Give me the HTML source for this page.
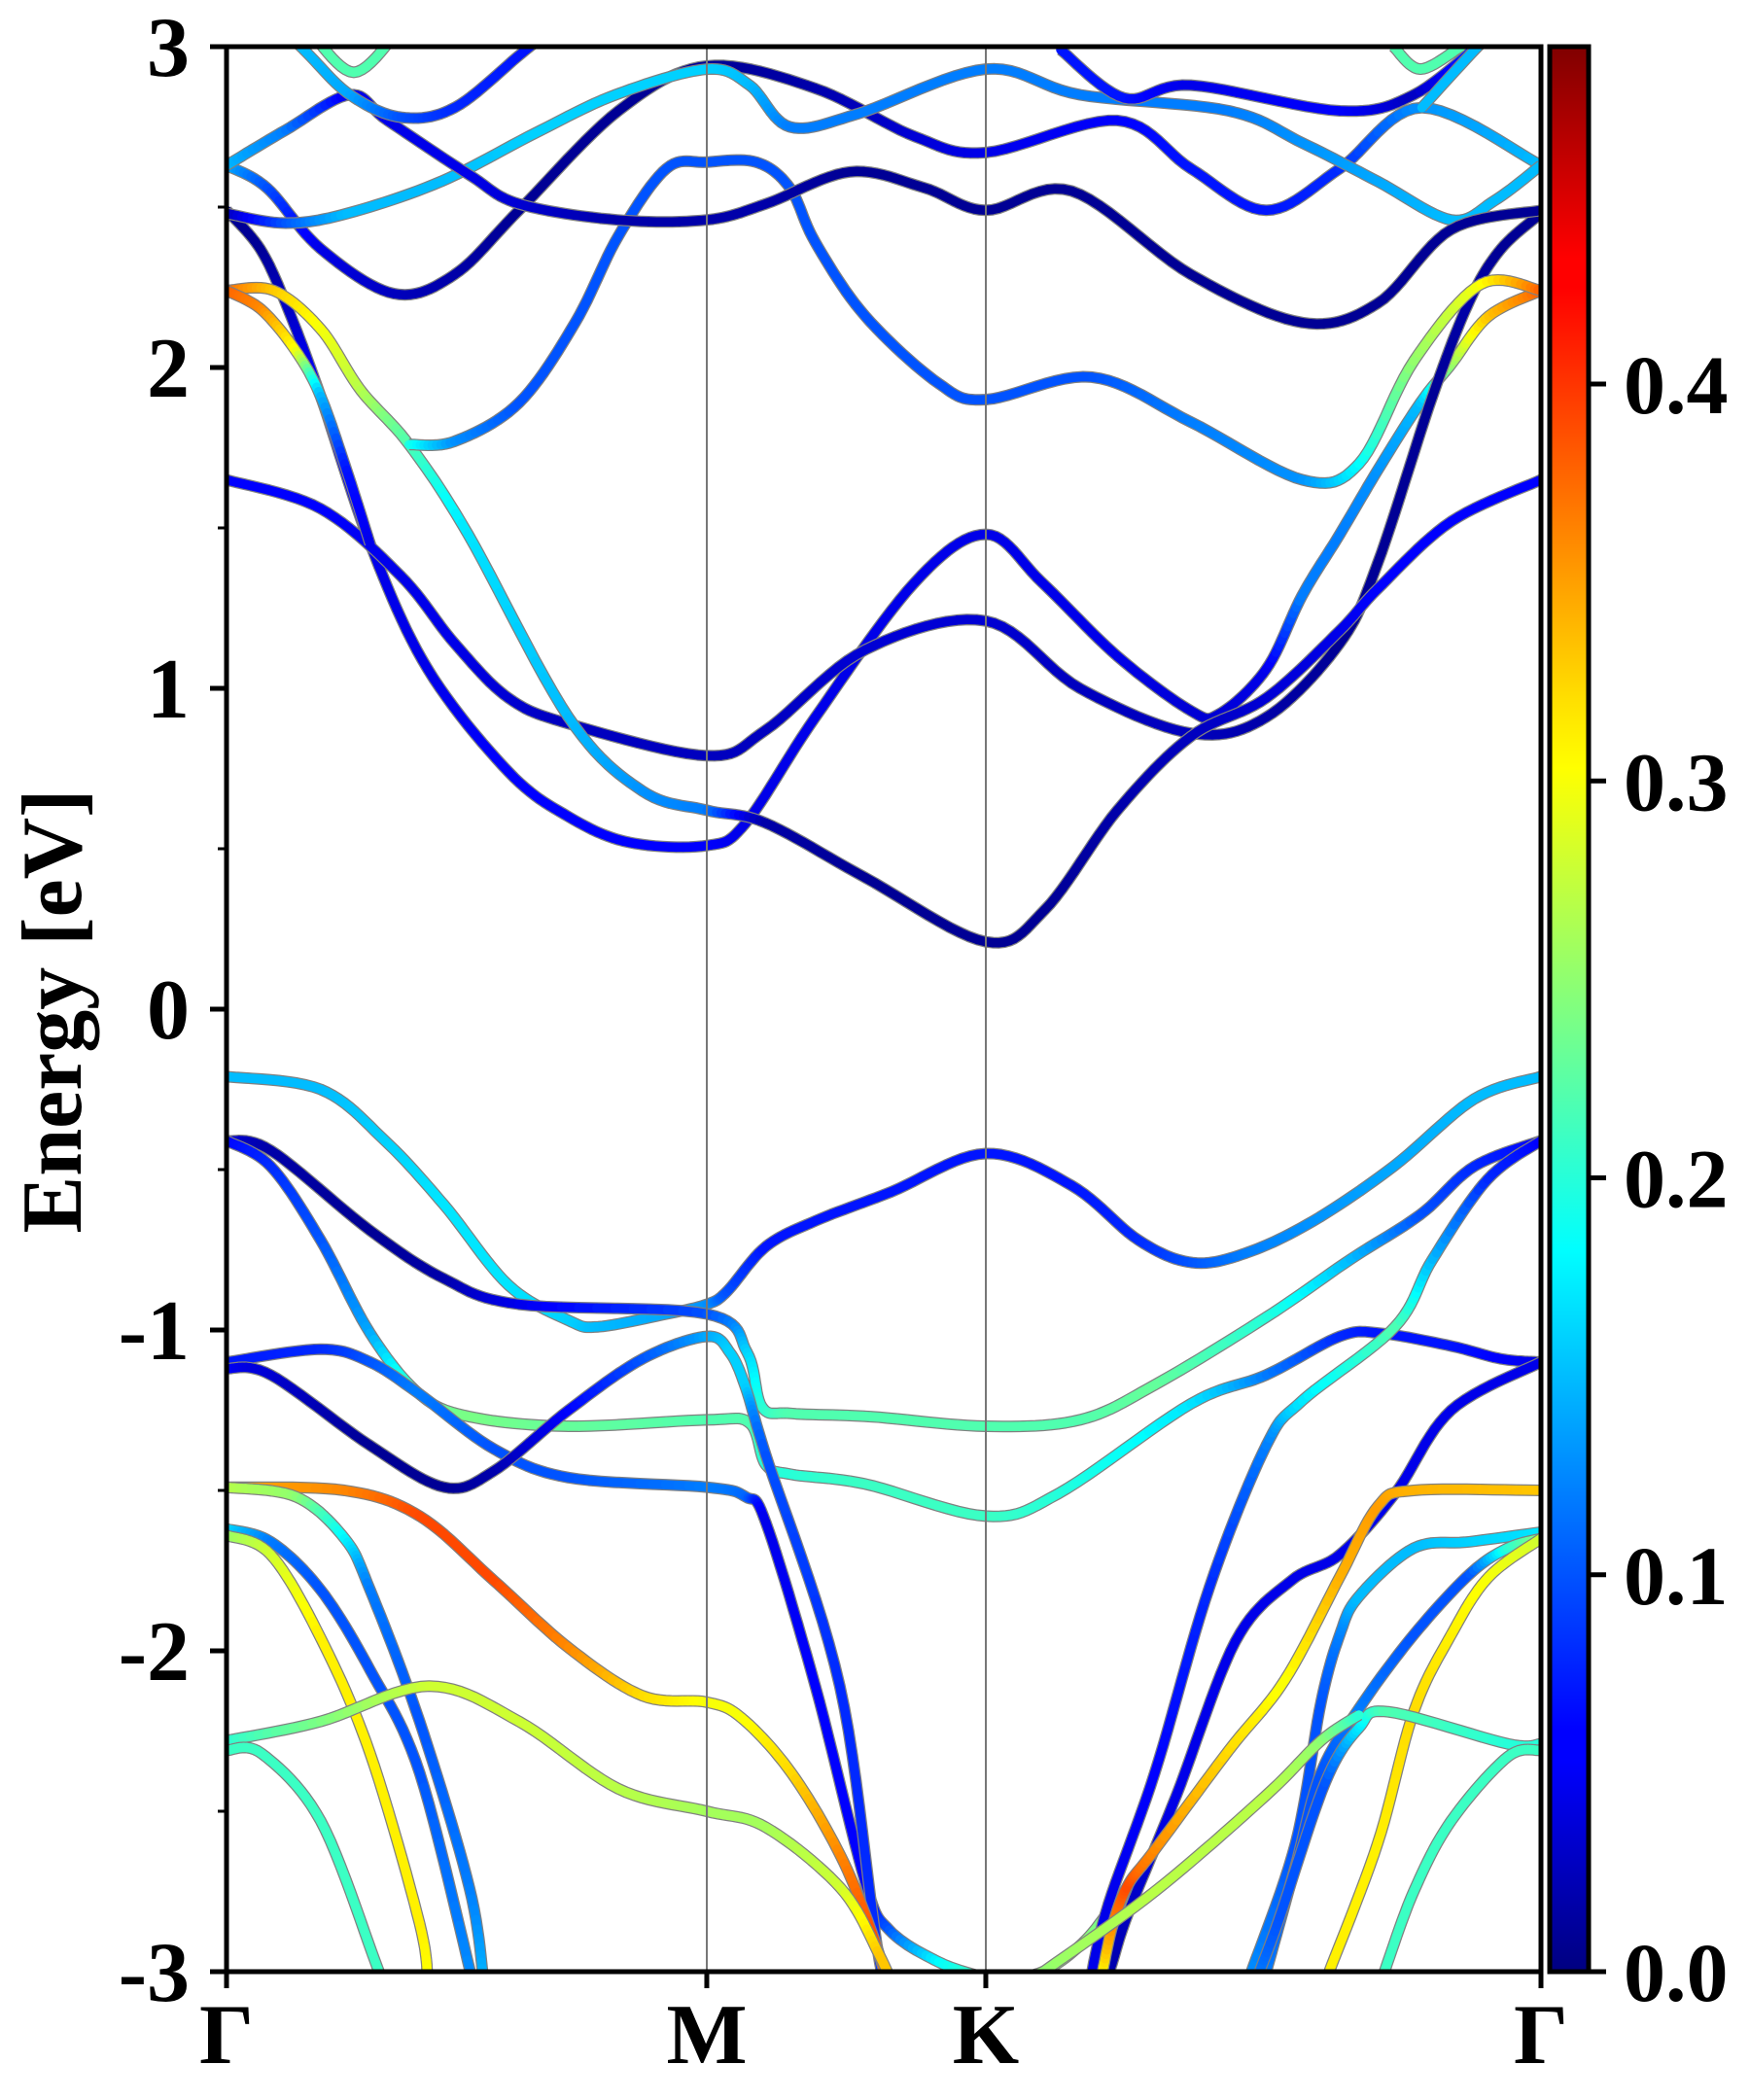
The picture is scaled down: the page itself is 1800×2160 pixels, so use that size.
<!DOCTYPE html>
<html><head><meta charset="utf-8">
<style>
html,body{margin:0;padding:0;background:#fff;}
svg{display:block;}
text{font-family:"Liberation Serif","DejaVu Serif",serif;font-weight:bold;fill:#000;}
</style></head>
<body>
<svg id="chart" width="1800" height="2160" viewBox="0 0 1800 2160" xmlns="http://www.w3.org/2000/svg">
<defs>
<clipPath id="plotClip"><rect x="233" y="48" width="1352" height="1980"/></clipPath>
<linearGradient id="jetGrad" x1="0" y1="1" x2="0" y2="0">
<stop offset="0" stop-color="#000080"/><stop offset="0.11" stop-color="#0000ff"/><stop offset="0.125" stop-color="#0000ff"/>
<stop offset="0.34" stop-color="#00dcff"/><stop offset="0.375" stop-color="#00ffff"/><stop offset="0.5" stop-color="#80ff80"/>
<stop offset="0.625" stop-color="#ffff00"/><stop offset="0.66" stop-color="#ffe000"/><stop offset="0.875" stop-color="#ff0000"/>
<stop offset="0.89" stop-color="#ff0000"/><stop offset="1" stop-color="#800000"/>
</linearGradient>
</defs>
<rect width="1800" height="2160" fill="#fff"/>
<g id="bands" clip-path="url(#plotClip)"></g>
<line x1="727" y1="48" x2="727" y2="2028" stroke="#777" stroke-width="2"/>
<line x1="1014" y1="48" x2="1014" y2="2028" stroke="#777" stroke-width="2"/>
<rect x="233" y="48" width="1352" height="1980" fill="none" stroke="#000" stroke-width="5"/>
<g id="axes"></g>
<text x="0" y="0" font-size="88" text-anchor="middle" transform="translate(83,1040) rotate(-90)">Energy [eV]</text>
<rect x="1594" y="48" width="40" height="1980" fill="url(#jetGrad)" stroke="#000" stroke-width="5"/>
<g id="cbar"></g>
</svg>
<script>
const kTicks=[0,1,1.581,2.737];
const kLabels=["Γ","M","K","Γ"];
const eTicks=[-3,-2,-1,0,1,2,3];
const eMinor=[-2.5,-1.5,-0.5,0.5,1.5,2.5];
const cbTicks=[0,0.1,0.2,0.3,0.4];
const cbLabels=["0.0","0.1","0.2","0.3","0.4"];
const VMAX=0.485;

// conduction bands
const kLCa=[0,.07,.126,.196,.299,.419,.587,.712,.838,1.0,1.081,1.226,1.433,1.581,1.698,1.855,2.008,2.067,2.165,2.24,2.318,2.397,2.486,2.55,2.628,2.737];
const eLCa=[2.49,2.37,2.19,1.91,1.45,1.06,0.74,0.60,0.52,0.51,0.58,0.91,1.33,1.48,1.33,1.10,0.93,0.92,1.06,1.29,1.48,1.68,1.89,2.01,2.16,2.24];
const vLCa=[.01,.01,.03,.06,.05,.05,.06,.06,.06,.06,.05,.05,.05,.05,.05,.05,.04,.04,.05,.12,.12,.13,.15,.25,.33,.38];
const kLCb=[0,.196,.363,.475,.587,.712,1.0,1.123,1.33,1.581,1.777,2.008,2.165,2.318,2.397,2.511,2.589,2.654,2.737];
const eLCb=[1.65,1.56,1.35,1.14,0.97,0.89,0.79,0.87,1.12,1.21,1.00,0.86,0.91,1.14,1.39,1.91,2.21,2.37,2.48];
const vLCb=[.06,.06,.05,.05,.04,.03,.03,.03,.04,.04,.03,.03,.02,.01,.01,.01,.02,.01,.01];
const kLCc=[0,.098,.196,.279,.38,.503,.712,.866,1.0,1.123,1.33,1.581,1.704,1.855,2.008,2.165,2.318,2.397,2.55,2.737];
const eLCc=[2.24,2.24,2.12,1.93,1.76,1.48,0.91,0.68,0.62,0.58,0.41,0.21,0.31,0.62,0.85,0.97,1.18,1.31,1.52,1.65];
const vLCc=[.38,.33,.3,.27,.22,.17,.15,.13,.12,.02,.01,.01,.01,.02,.03,.04,.05,.06,.06,.06];
const kLCd=[0,.073,.145,.196,.25,.299];
const eLCd=[2.24,2.18,2.05,1.91,1.68,1.45];
const vLCd=[.38,.36,.3,.15,.07,.05];
const kLCe=[.38,.475,.609,.726,.816,.916,1.0,1.103,1.173,1.226,1.33,1.483,1.581,1.802,2.008,2.24,2.358,2.472,2.612,2.737];
const eLCe=[1.76,1.77,1.89,2.14,2.41,2.62,2.64,2.64,2.56,2.39,2.16,1.95,1.9,1.97,1.83,1.65,1.70,2.02,2.26,2.24];
const vLCe=[.2,.13,.1,.1,.1,.1,.1,.1,.1,.1,.1,.1,.1,.1,.12,.13,.18,.25,.3,.38];
const kP1=[0,.084,.196,.349,.475,.609,.816,1.0,1.226,1.433,1.581,1.855,2.008,2.165,2.318,2.489,2.737];
const eP1=[2.63,2.56,2.37,2.23,2.29,2.49,2.80,2.94,2.87,2.72,2.67,2.77,2.62,2.49,2.62,2.81,2.63];
const vP1=[.15,.1,.05,.03,.02,.01,.01,.01,.02,.04,.05,.06,.07,.07,.08,.13,.15];
const kP2=[0,.123,.251,.447,.642,.81,1.0,1.089,1.173,1.313,1.581,1.777,2.087,2.24,2.397,2.55,2.64,2.737];
const eP2=[2.48,2.45,2.48,2.58,2.73,2.85,2.93,2.88,2.75,2.79,2.93,2.85,2.80,2.70,2.58,2.46,2.52,2.63];
const vP2=[.02,.1,.15,.15,.16,.16,.16,.15,.12,.12,.12,.12,.12,.13,.14,.15,.15,.15];
const kP3=[0,.123,.257,.335,.506,.609,.813,1.0,1.123,1.299,1.453,1.581,1.76,2.008,2.24,2.397,2.55,2.737];
const eP3=[2.63,2.74,2.85,2.77,2.60,2.51,2.46,2.46,2.51,2.61,2.56,2.49,2.55,2.29,2.14,2.20,2.43,2.49];
const vP3=[.15,.12,.05,.05,.05,.04,.02,.02,.02,.01,.01,.01,.01,.01,.01,.01,.01,.01];
const kP4=[.07,.168,.257,.363,.475,.615,.698];
const eP4=[3.13,2.98,2.85,2.78,2.81,2.98,3.08];
const vP4=[.15,.15,.14,.1,.08,.07,.07];
const kP5=[.168,.265,.363];
const eP5=[3.06,2.92,3.06];
const vP5=[.22,.22,.22];
const kP6=[1.737,1.869,2.008,2.318,2.472,2.626];
const eP6=[2.99,2.84,2.88,2.80,2.85,3.03];
const vP6=[.07,.07,.05,.06,.03,.1];
const kP7=[2.43,2.486,2.57];
const eP7=[3.0,2.93,3.0];
const vP7=[.22,.22,.22];
const kP8=[2.489,2.612,2.682];
const eP8=[2.81,3.01,3.1];
const vP8=[.15,.15,.15];

// valence bands
const kV1=[0,.196,.33,.453,.587,.712,.774,.916,1.0,1.042,1.123,1.226,1.383,1.581,1.76,1.899,2.011,2.123,2.263,2.43,2.598,2.737];
const eV1=[-0.21,-0.25,-0.41,-0.61,-0.86,-0.97,-0.99,-0.95,-0.92,-0.88,-0.74,-0.66,-0.57,-0.45,-0.55,-0.72,-0.79,-0.76,-0.66,-0.49,-0.28,-0.21];
const vV1=[.15,.15,.16,.17,.17,.16,.15,.14,.13,.1,.07,.07,.07,.07,.07,.08,.1,.12,.13,.14,.15,.15];
const kV2=[0,.092,.299,.453,.609,1.0,1.084,1.115,1.176,1.341,1.581,1.777,1.934,2.165,2.34,2.486,2.598,2.737];
const eV2=[-0.41,-0.44,-0.69,-0.84,-0.92,-0.95,-1.07,-1.24,-1.26,-1.27,-1.30,-1.28,-1.17,-0.96,-0.78,-0.64,-0.49,-0.41];
const vV2=[.05,.02,.01,.02,.05,.1,.16,.2,.22,.22,.22,.22,.23,.2,.15,.1,.08,.06];
const kV3=[0,.092,.196,.299,.402,.506,.712,1.0,1.089,1.123,1.176,1.33,1.581,1.732,2.008,2.165,2.318,2.402,2.55,2.654,2.737];
const eV3=[-0.41,-0.49,-0.72,-1.01,-1.20,-1.27,-1.30,-1.28,-1.29,-1.42,-1.45,-1.48,-1.58,-1.51,-1.23,-1.14,-1.02,-1.01,-1.05,-1.09,-1.10];
const vV3=[.06,.08,.1,.14,.22,.24,.23,.22,.22,.2,.2,.21,.21,.2,.17,.12,.08,.07,.07,.06,.05];
const kV4=[0,.196,.299,.402,.556,.712,1.0,1.081,1.123,1.226,1.33,1.38,1.483,1.581];
const eV4=[-1.10,-1.06,-1.10,-1.20,-1.37,-1.46,-1.49,-1.52,-1.60,-2.11,-2.72,-2.87,-2.97,-3.02];
const vV4=[.07,.08,.1,.12,.1,.1,.12,.11,.05,.06,.06,.1,.18,.22];
const kV5=[0,.092,.299,.453,.556,.712,.866,1.0,1.048,1.081,1.123,1.277,1.36,1.425];
const eV5=[-1.12,-1.14,-1.36,-1.49,-1.44,-1.25,-1.09,-1.02,-1.07,-1.18,-1.39,-2.11,-2.97,-3.33];
const vV5=[.06,.04,.01,.01,.02,.06,.1,.14,.16,.16,.1,.08,.08,.1];
const kL1=[0,.246,.402,.556,.712,.866,1.0,1.073,1.176,1.279,1.349,1.383];
const eL1=[-1.49,-1.50,-1.58,-1.78,-1.99,-2.14,-2.16,-2.21,-2.38,-2.64,-2.90,-3.08];
const vL1=[.34,.36,.39,.39,.36,.32,.3,.3,.32,.36,.39,.34];
const kL2=[0,.145,.246,.299,.402,.506,.536];
const eL2=[-1.49,-1.52,-1.65,-1.81,-2.22,-2.74,-3.04];
const vL2=[.27,.25,.18,.12,.1,.12,.15];
const kL3=[0,.092,.196,.299,.402,.514];
const eL3=[-1.62,-1.66,-1.81,-2.06,-2.38,-3.04];
const vL3=[.17,.12,.1,.1,.1,.13];
const kL4=[0,.092,.196,.299,.402,.419];
const eL4=[-1.64,-1.70,-1.96,-2.32,-2.85,-3.04];
const vL4=[.25,.28,.31,.31,.31,.3];
const kL5=[0,.196,.422,.609,.816,1.0,1.123,1.279,1.36,1.397];
const eL5=[-2.28,-2.22,-2.11,-2.22,-2.43,-2.50,-2.55,-2.74,-2.95,-3.08];
const vL5=[.2,.24,.28,.28,.27,.26,.26,.28,.33,.33];
const kL6=[0,.073,.196,.31,.335];
const eL6=[-2.31,-2.32,-2.53,-2.97,-3.08];
const vL6=[.21,.21,.21,.21,.21];
const kKb=[1.52,1.6,1.7,1.79,1.86];
const eKb=[-3.08,-3.03,-3.0,-2.9,-2.76];
const vKb=[.25,.27,.25,.25,.22];
const kRV3=[1.802,1.838,1.877,1.978,2.101,2.218,2.318,2.433,2.55,2.737];
const eRV3=[-3.12,-3.0,-2.82,-2.45,-1.97,-1.78,-1.70,-1.51,-1.25,-1.10];
const vRV3=[.02,.02,.03,.05,.05,.05,.05,.05,.05,.05];
const kRV4=[1.788,1.83,1.933,2.047,2.165,2.24,2.433,2.511,2.626,2.737];
const eRV4=[-3.12,-2.82,-2.38,-1.80,-1.36,-1.22,-0.99,-0.78,-0.53,-0.41];
const vRV4=[.05,.05,.06,.08,.12,.17,.22,.15,.08,.06];
const kRV5=[1.824,1.846,1.877,1.933,2.087,2.204,2.318,2.397,2.472,2.737];
const eRV5=[-3.0,-2.85,-2.73,-2.62,-2.31,-2.09,-1.77,-1.55,-1.50,-1.50];
const vRV5=[.3,.36,.39,.36,.32,.3,.34,.35,.34,.33];
const kRV6=[2.134,2.226,2.279,2.318,2.358,2.472,2.589,2.737];
const eRV6=[-3.0,-2.60,-2.16,-1.95,-1.83,-1.68,-1.66,-1.63];
const vRV6=[.13,.1,.1,.12,.15,.15,.16,.17];
const kRV7=[2.165,2.226,2.279,2.358,2.472,2.589,2.668,2.737];
const eRV7=[-3.0,-2.67,-2.38,-2.18,-1.95,-1.76,-1.68,-1.65];
const vRV7=[.12,.1,.1,.12,.1,.1,.2,.25];
const kRV8=[2.296,2.397,2.472,2.55,2.628,2.737];
const eRV8=[-3.0,-2.60,-2.19,-1.95,-1.77,-1.65];
const vRV8=[.31,.31,.32,.31,.3,.28];
const kRV9=[2.151,2.193,2.288,2.358,2.419,2.668,2.737];
const eRV9=[-3.0,-2.83,-2.41,-2.24,-2.19,-2.29,-2.29];
const vRV9=[.12,.1,.1,.17,.22,.2,.2];
const kRV10=[2.411,2.472,2.55,2.668,2.737];
const eRV10=[-3.0,-2.75,-2.53,-2.33,-2.31];
const vRV10=[.21,.21,.21,.21,.21];
const kRV11=[1.701,1.933,2.165,2.279,2.358];
const eRV11=[-3.0,-2.75,-2.45,-2.28,-2.20];
const vRV11=[.25,.27,.27,.25,.2];

const bandList=[
 ["cb-lca",kLCa,eLCa,vLCa],["cb-lcb",kLCb,eLCb,vLCb],["cb-lcc",kLCc,eLCc,vLCc],["cb-lcd",kLCd,eLCd,vLCd],
 ["cb-lce",kLCe,eLCe,vLCe],["cb-p1",kP1,eP1,vP1],["cb-p2",kP2,eP2,vP2],["cb-p3",kP3,eP3,vP3],
 ["cb-p4",kP4,eP4,vP4],["cb-p5",kP5,eP5,vP5],["cb-p6",kP6,eP6,vP6],["cb-p7",kP7,eP7,vP7],["cb-p8",kP8,eP8,vP8],
 ["vb-1",kV1,eV1,vV1],["vb-2",kV2,eV2,vV2],["vb-3",kV3,eV3,vV3],["vb-4",kV4,eV4,vV4],["vb-5",kV5,eV5,vV5],
 ["vb-l1",kL1,eL1,vL1],["vb-l2",kL2,eL2,vL2],["vb-l3",kL3,eL3,vL3],["vb-l4",kL4,eL4,vL4],["vb-l5",kL5,eL5,vL5],["vb-l6",kL6,eL6,vL6],
 ["vb-kb",kKb,eKb,vKb],["vb-r3",kRV3,eRV3,vRV3],["vb-r4",kRV4,eRV4,vRV4],["vb-r5",kRV5,eRV5,vRV5],["vb-r6",kRV6,eRV6,vRV6],
 ["vb-r7",kRV7,eRV7,vRV7],["vb-r8",kRV8,eRV8,vRV8],["vb-r9",kRV9,eRV9,vRV9],["vb-r10",kRV10,eRV10,vRV10],["vb-r11",kRV11,eRV11,vRV11]
];

const NS="http://www.w3.org/2000/svg";
const PX0=233,PX1=1585,PY0=48,PY1=2028,KMAX=2.737;
function X(k){return PX0+k*(PX1-PX0)/KMAX;}
function Y(e){return PY0+(3-e)*(PY1-PY0)/6;}
function clamp(a){return Math.max(0,Math.min(1,a));}
function jet(v){const t=clamp(v/VMAX);
 const r=clamp(1.5-Math.abs(4*t-3)),g=clamp(1.5-Math.abs(4*t-2)),b=clamp(1.5-Math.abs(4*t-1));
 return "rgb("+Math.round(r*255)+","+Math.round(g*255)+","+Math.round(b*255)+")";}

const gB=document.getElementById("bands");
bandList.forEach(function(b){
 const name=b[0],ks=b[1],es=b[2],vs=b[3];
 const P=ks.map(function(k,i){return [X(k),Y(es[i])];});
 const pts=[],vals=[];
 const n=P.length,S=12;
 for(let i=0;i<n-1;i++){
  const p0=P[Math.max(0,i-1)],p1=P[i],p2=P[i+1],p3=P[Math.min(n-1,i+2)];
  for(let s=0;s<S;s++){
   const t=s/S,t2=t*t,t3=t2*t;
   const x=0.5*((2*p1[0])+(-p0[0]+p2[0])*t+(2*p0[0]-5*p1[0]+4*p2[0]-p3[0])*t2+(-p0[0]+3*p1[0]-3*p2[0]+p3[0])*t3);
   const y=0.5*((2*p1[1])+(-p0[1]+p2[1])*t+(2*p0[1]-5*p1[1]+4*p2[1]-p3[1])*t2+(-p0[1]+3*p1[1]-3*p2[1]+p3[1])*t3);
   pts.push([x,y]);vals.push(vs[i]+(vs[i+1]-vs[i])*t);
  }
 }
 pts.push(P[n-1]);vals.push(vs[n-1]);
 const g=document.createElementNS(NS,"g");
 
 
 const outline=document.createElementNS(NS,"polyline");
 outline.setAttribute("points",pts.map(function(p){return p[0].toFixed(1)+","+p[1].toFixed(1);}).join(" "));
 outline.setAttribute("fill","none");outline.setAttribute("stroke","#808080");
 outline.setAttribute("stroke-width","12");outline.setAttribute("stroke-linejoin","round");
 
 
 g.appendChild(outline);
 for(let i=0;i<pts.length-1;i++){
  const l=document.createElementNS(NS,"line");
  l.setAttribute("x1",pts[i][0].toFixed(1));l.setAttribute("y1",pts[i][1].toFixed(1));
  l.setAttribute("x2",pts[i+1][0].toFixed(1));l.setAttribute("y2",pts[i+1][1].toFixed(1));
  l.setAttribute("stroke",jet((vals[i]+vals[i+1])/2));l.setAttribute("stroke-width","9.5");
  l.setAttribute("stroke-linecap","round");
  
  
  g.appendChild(l);
 }
 gB.appendChild(g);
});

const gA=document.getElementById("axes");
function mk(tag,attrs,txt){const e=document.createElementNS(NS,tag);for(const a in attrs)e.setAttribute(a,attrs[a]);if(txt!==undefined)e.textContent=txt;return e;}
eTicks.forEach(function(e){
 const t=mk("line",{x1:PX0-17,y1:Y(e),x2:PX0,y2:Y(e),stroke:"#000","stroke-width":5});
 
 
 gA.appendChild(t);
 const lb=mk("text",{x:195,y:Y(e)+30,"font-size":88,"text-anchor":"end"},String(e));
 
 
 gA.appendChild(lb);
});
eMinor.forEach(function(e){
 const t=mk("line",{x1:PX0-9,y1:Y(e),x2:PX0,y2:Y(e),stroke:"#000","stroke-width":3});
 
 
 gA.appendChild(t);
});
kTicks.forEach(function(k,i){
 const t=mk("line",{x1:X(k),y1:PY1,x2:X(k),y2:PY1+17,stroke:"#000","stroke-width":5});
 
 
 gA.appendChild(t);
 const lb=mk("text",{x:X(k),y:2122,"font-size":88,"text-anchor":"middle"},kLabels[i]);
 
 
 gA.appendChild(lb);
});
const gC=document.getElementById("cbar");
cbTicks.forEach(function(v,i){
 const y=PY1-(PY1-PY0)*v/VMAX;
 const t=mk("line",{x1:1636,y1:y,x2:1652,y2:y,stroke:"#000","stroke-width":5});
 
 
 gC.appendChild(t);
 const lb=mk("text",{x:1670,y:y+30,"font-size":86,"text-anchor":"start"},cbLabels[i]);
 
 
 gC.appendChild(lb);
});
</script>
</body></html>
